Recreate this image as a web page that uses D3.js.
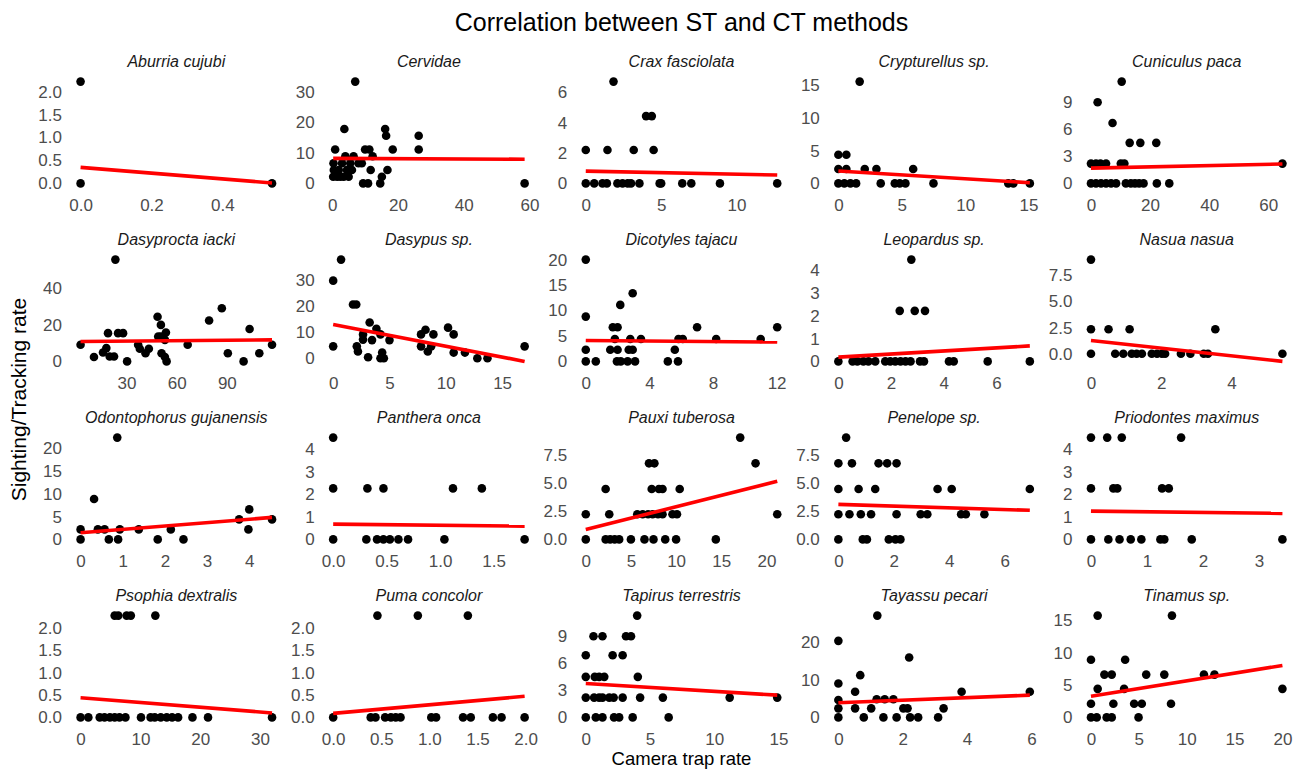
<!DOCTYPE html>
<html>
<head>
<meta charset="utf-8">
<script src="https://cdn.jsdelivr.net/npm/d3@7"></script>
<style>
  html, body { margin: 0; padding: 0; background: #fff; }
  svg { display: block; font-family: "Liberation Sans", Arial, sans-serif; }
</style>
</head>
<body>
<svg id="chart" width="1301" height="769"></svg>
<script>
// ---------------- data ----------------
const chartTitle = "Correlation between ST and CT methods";
const xTitle = "Camera trap rate";
const yTitle = "Sighting/Tracking rate";

const species = ["Aburria cujubi","Cervidae","Crax fasciolata","Crypturellus sp.","Cuniculus paca",
  "Dasyprocta iacki","Dasypus sp.","Dicotyles tajacu","Leopardus sp.","Nasua nasua",
  "Odontophorus gujanensis","Panthera onca","Pauxi tuberosa","Penelope sp.","Priodontes maximus",
  "Psophia dextralis","Puma concolor","Tapirus terrestris","Tayassu pecari","Tinamus sp."];

// [camera trap rate, sighting/tracking rate]
const points = [
  [[0,2.22],[0,0],[0.54,0]],
  [[0.3,2.2],[0.5,4.4],[0.4,6.6],[0.9,11.1],[1.5,2.2],[2,4.4],[2.5,2.2],[3,6.6],[3.5,2.2],[3.7,17.8],[4,8.9],[4.5,4.4],[5,2.2],[5.5,6.6],[6,4.4],[6.5,8.9],[7,33.3],[8,6.6],[9,6.6],[9.4,0],[10,11.1],[10.9,0],[11.3,11.1],[11.7,4.4],[12.3,8.9],[14.6,0],[15.1,2.2],[16.1,17.8],[16.4,15.6],[16.8,4.4],[18.4,11.1],[26.3,15.6],[26.3,11.1],[58.5,0]],
  [[1.84,6.7],[4.0,4.43],[4.38,4.43],[0,2.2],[1.44,2.2],[3.18,2.2],[4.5,2.2],[0,0],[0.56,0],[1.11,0],[1.4,0],[2.1,0],[2.44,0],[2.78,0],[3.0,0],[3.56,0],[4.9,0],[5.0,0],[6.4,0],[7.0,0],[8.9,0],[12.7,0]],
  [[1.68,15.6],[0,4.4],[0.63,4.4],[0,2.2],[0.63,2.2],[2.08,2.2],[3.0,2.2],[5.9,2.2],[0,0],[0.47,0],[0.95,0],[1.4,0],[3.34,0],[4.45,0],[4.84,0],[5.29,0],[7.5,0],[13.4,0],[13.8,0],[15.1,0]],
  [[10.4,11.3],[2.25,9.0],[7.3,6.7],[13.1,4.5],[16.7,4.5],[22.1,4.5],[0,2.2],[1.7,2.2],[3.2,2.2],[5.1,2.2],[10.1,2.2],[11.3,2.2],[64.8,2.2],[0,0],[1.7,0],[3.4,0],[5.1,0],[6.8,0],[8.5,0],[11.8,0],[13.5,0],[14.9,0],[16.3,0],[17.8,0],[22.3,0],[26.5,0]],
  [[23.4,55.8],[2.6,9.1],[10.6,2.4],[16,4.9],[18,7.3],[19,15.5],[20,2.7],[22.6,2.7],[25,15.5],[28,15.5],[30.4,0],[37,9.1],[38,6.9],[41.4,4.5],[43.4,6.9],[48.6,24.5],[50.6,20],[49,13.6],[50.6,13.6],[53.6,15.8],[53,11.8],[51,4.5],[53,2.4],[54,0],[66.6,9.1],[79.4,22.4],[87,29.1],[90.6,4.5],[100,0],[103.6,17.8],[109.4,4.5],[117,9.1]],
  [[0.7,38],[0,29.9],[0,4.6],[1.76,20.7],[2.05,20.7],[3.24,13.8],[3.84,11.4],[2.65,9.2],[2.65,7.2],[3.45,7.0],[4.2,9.2],[2.1,4.6],[2.2,2.6],[3.1,0.4],[4.2,0],[4.5,0],[4.35,2.2],[5.0,7.0],[7.8,9.2],[8.2,11.0],[8.9,9.2],[7.8,4.6],[8.4,2.6],[8.7,4.6],[10.2,11.8],[10.7,9.2],[10.7,2.2],[11.7,2.2],[12.8,0],[13.7,0],[17.0,4.6]],
  [[0,20],[0,8.8],[0,2.3],[0,0],[0.63,0],[1.7,6.7],[2.0,6.7],[1.83,4.4],[1.54,2.3],[2.0,2.3],[2.7,2.3],[2.95,2.3],[1.96,0],[2.2,0],[2.63,0],[3.1,0],[2.17,11.1],[2.95,13.4],[2.8,4.4],[3.47,4.4],[5.16,0],[5.8,0],[5.6,2.3],[5.83,4.4],[6.1,4.4],[7.0,6.7],[8.2,4.4],[11.0,4.4],[12.04,6.7]],
  [[2.77,4.47],[2.33,2.22],[2.9,2.22],[3.29,2.22],[0,0],[0.54,0],[0.72,0],[0.95,0],[1.14,0],[1.4,0],[1.78,0],[1.97,0],[2.16,0],[2.36,0],[2.55,0],[2.74,0],[3.1,0],[3.25,0],[4.2,0],[4.38,0],[5.67,0],[7.27,0]],
  [[0,9.0],[0,2.34],[0.5,2.34],[1.1,2.34],[3.54,2.34],[0,0],[0.69,0],[0.92,0],[1.16,0],[1.3,0],[1.45,0],[1.73,0],[1.88,0],[2.02,0],[2.11,0],[2.56,0],[2.83,0],[3.21,0],[3.33,0],[5.45,0]],
  [[0.87,22.4],[0.32,8.9],[0,2.2],[0,0],[0.41,2.2],[0.57,2.2],[0.67,0],[0.89,0],[0.93,2.2],[1.38,2.2],[1.83,0],[2.14,2.2],[2.44,0],[3.76,4.4],[4.0,6.6],[3.98,2.2],[4.54,4.4]],
  [[0,4.53],[0,2.27],[0,0],[0.32,2.27],[0.47,2.27],[0.31,0],[0.41,0],[0.47,0],[0.53,0],[0.61,0],[0.70,0],[1.04,0],[1.12,2.27],[1.39,2.27],[1.79,0]],
  [[17.1,9.1],[18.8,6.8],[7.0,6.8],[7.6,6.8],[2.2,4.5],[7.3,4.5],[8.1,4.5],[8.5,4.5],[10.4,4.5],[0,2.25],[2.6,2.25],[5.7,2.25],[6.3,2.25],[6.9,2.25],[7.4,2.25],[8.0,2.25],[8.5,2.25],[9.6,2.25],[10.1,2.25],[21.2,2.25],[0,0],[2.2,0],[2.7,0],[3.2,0],[3.7,0],[5.0,0],[6.5,0],[7.5,0],[8.8,0],[10.0,0],[14.4,0]],
  [[0.28,9.1],[0,6.8],[0.49,6.8],[1.45,6.8],[1.76,6.8],[2.1,6.8],[0,4.5],[0.73,4.5],[1.33,4.5],[3.58,4.5],[4.09,4.5],[6.91,4.5],[0,2.25],[0.4,2.25],[0.81,2.25],[1.18,2.25],[2.1,2.25],[2.97,2.25],[3.21,2.25],[4.43,2.25],[4.6,2.25],[5.27,2.25],[0,0],[0.88,0],[1.03,0],[1.82,0],[2.06,0],[2.24,0]],
  [[0,4.53],[0.29,4.53],[0.55,4.53],[1.61,4.53],[0,2.27],[0.4,2.27],[0.47,2.27],[1.27,2.27],[1.39,2.27],[0,0],[0.31,0],[0.51,0],[0.71,0],[0.9,0],[1.24,0],[1.31,0],[1.8,0],[3.42,0]],
  [[5.7,2.27],[6.3,2.27],[7.7,2.27],[8.4,2.27],[12.5,2.27],[0,0],[1.3,0],[3.2,0],[4.0,0],[4.9,0],[5.7,0],[6.5,0],[7.5,0],[10.1,0],[11.7,0],[12.4,0],[13.4,0],[14.4,0],[15.3,0],[16.3,0],[18.7,0],[21.3,0],[32.0,0]],
  [[0.46,2.27],[0.88,2.27],[1.4,2.27],[0,0],[0.39,0],[0.44,0],[0.54,0],[0.6,0],[0.65,0],[0.7,0],[1.02,0],[1.07,0],[1.35,0],[1.43,0],[1.66,0],[1.75,0],[1.99,0]],
  [[4.0,11.3],[0.6,9.0],[1.3,9.0],[3.13,9.0],[3.52,9.0],[0,6.9],[2.09,6.9],[2.87,6.9],[0,4.5],[0.7,4.5],[1.04,4.5],[1.44,4.5],[4.05,4.5],[0,2.2],[0.65,2.2],[1.04,2.2],[1.3,2.2],[1.83,2.2],[2.17,2.2],[2.87,2.2],[4.23,2.2],[6.0,2.2],[11.2,2.2],[14.9,2.2],[0,0],[0.78,0],[1.3,0],[2.2,0],[2.6,0],[3.65,0],[6.45,0]],
  [[0,20.3],[0,9.0],[0,4.6],[0,2.4],[0,0],[0.52,6.8],[0.68,11.2],[0.52,2.4],[0.79,0],[1.21,27.0],[2.2,15.9],[1.02,2.4],[1.19,4.8],[1.44,4.8],[1.71,4.8],[1.4,0],[1.81,0],[2.02,2.4],[2.15,2.4],[2.23,0],[2.48,0],[3.1,0],[3.27,2.4],[3.83,6.8],[5.95,6.8]],
  [[0.7,15.7],[8.46,15.7],[0,8.9],[3.57,8.9],[1.4,6.6],[2.17,6.6],[5.77,6.6],[7.66,6.6],[11.8,6.6],[12.9,6.6],[0.7,4.4],[3.46,4.4],[20.0,4.4],[0,2.1],[2.34,2.1],[4.51,2.1],[5.31,2.1],[8.36,2.1],[0,0],[0.6,0],[1.64,0],[2.17,0],[4.97,0]]
];

// fitted linear trend: value at the smallest and at the largest camera trap rate
const fitStart = [0.35, 8.2, 0.81, 1.9, 1.7, 10.9, 13.0, 4.1, 0.19, 1.27, 1.47, 0.68, 0.89, 3.13, 1.26, 0.44, 0.09, 3.76, 3.9, 3.27];
const fitEnd   = [0.01, 7.9, 0.55, 0.1, 2.15, 11.8, -1.2, 3.8, 0.68, -0.73, 4.84, 0.59, 5.19, 2.6, 1.16, 0.1, 0.47, 2.47, 5.9, 8.0];

const xTicks = [[0,0.2,0.4],[0,20,40,60],[0,5,10],[0,5,10,15],[0,20,40,60],
  [30,60,90],[0,5,10,15],[0,4,8,12],[0,2,4,6],[0,2,4],
  [0,1,2,3,4],[0,0.5,1,1.5],[0,5,10,15,20],[0,2,4,6],[0,1,2,3],
  [0,10,20,30],[0,0.5,1,1.5,2],[0,5,10,15],[0,2,4,6],[0,5,10,15,20]];
const yTicks = [[0,0.5,1,1.5,2],[0,10,20,30],[0,2,4,6],[0,5,10,15],[0,3,6,9],
  [0,20,40],[0,10,20,30],[0,5,10,15,20],[0,1,2,3,4],[0,2.5,5,7.5],
  [0,5,10,15,20],[0,1,2,3,4],[0,2.5,5,7.5],[0,2.5,5,7.5],[0,1,2,3,4],
  [0,0.5,1,1.5,2],[0,0.5,1,1.5,2],[0,3,6,9],[0,10,20],[0,5,10,15]];

// ---------------- layout ----------------
const NCOL = 5;
const LEFT0 = 71, PW = 210.6, GAP = 42;
const TOP0 = 76.5, PH = 112, PITCH = 178;
const TICK_FONT = 17, STRIP_FONT = 16;

const svg = d3.select("#chart");

function decimals(v) {
  const s = String(v);
  return s.includes(".") ? s.split(".")[1].length : 0;
}
function fmtFor(ticks) {
  const d = d3.max(ticks, decimals);
  return v => v.toFixed(d);
}

species.forEach((name, i) => {
  const col = i % NCOL, row = Math.floor(i / NCOL);
  const left = LEFT0 + col * (PW + GAP);
  const top = TOP0 + row * PITCH;
  const pts = points[i];
  const xExt = d3.extent(pts, d => d[0]);
  const yExt = d3.extent(pts.map(d => d[1]).concat([fitStart[i], fitEnd[i]]));
  const xp = (xExt[1] - xExt[0]) * 0.05, yp = (yExt[1] - yExt[0]) * 0.05;
  const x = d3.scaleLinear().domain([xExt[0] - xp, xExt[1] + xp]).range([left, left + PW]);
  const y = d3.scaleLinear().domain([yExt[0] - yp, yExt[1] + yp]).range([top + PH, top]);

  const g = svg.append("g").attr("class", "panel");

  // strip title
  g.append("text")
    .attr("x", left + PW / 2)
    .attr("y", top - 15)
    .attr("dy", "0.35em")
    .attr("text-anchor", "middle")
    .attr("font-style", "italic")
    .attr("font-size", STRIP_FONT)
    .attr("fill", "#1a1a1a")
    .text(name);

  // axes
  const xa = g.append("g")
    .attr("transform", `translate(0,${top + PH})`)
    .call(d3.axisBottom(x).tickValues(xTicks[i]).tickSize(0).tickPadding(10).tickFormat(fmtFor(xTicks[i])));
  const ya = g.append("g")
    .attr("transform", `translate(${left},0)`)
    .call(d3.axisLeft(y).tickValues(yTicks[i]).tickSize(0).tickPadding(9).tickFormat(fmtFor(yTicks[i])));
  [xa, ya].forEach(a => {
    a.select(".domain").remove();
    a.selectAll("text")
      .attr("font-size", TICK_FONT)
      .attr("font-family", '"Liberation Sans", Arial, sans-serif')
      .attr("fill", "#4d4d4d");
  });

  // points
  g.append("g").selectAll("circle")
    .data(pts).join("circle")
    .attr("cx", d => x(d[0]))
    .attr("cy", d => y(d[1]))
    .attr("r", 4.3)
    .attr("fill", "#000");

  // trend line
  g.append("line")
    .attr("x1", x(xExt[0])).attr("y1", y(fitStart[i]))
    .attr("x2", x(xExt[1])).attr("y2", y(fitEnd[i]))
    .attr("stroke", "#ff0000")
    .attr("stroke-width", 3.6);
});

// titles
const plotCenter = LEFT0 + (NCOL * PW + (NCOL - 1) * GAP) / 2;
svg.append("text")
  .attr("x", plotCenter).attr("y", 31)
  .attr("text-anchor", "middle")
  .attr("font-size", 25)
  .attr("fill", "#000")
  .text(chartTitle);

svg.append("text")
  .attr("x", plotCenter).attr("y", 765.2)
  .attr("text-anchor", "middle")
  .attr("font-size", 18.5)
  .attr("fill", "#000")
  .text(xTitle);

svg.append("text")
  .attr("transform", `translate(26,${TOP0 + (3 * PITCH + PH) / 2}) rotate(-90)`)
  .attr("text-anchor", "middle")
  .attr("font-size", 21)
  .attr("fill", "#000")
  .text(yTitle);
</script>
</body>
</html>
